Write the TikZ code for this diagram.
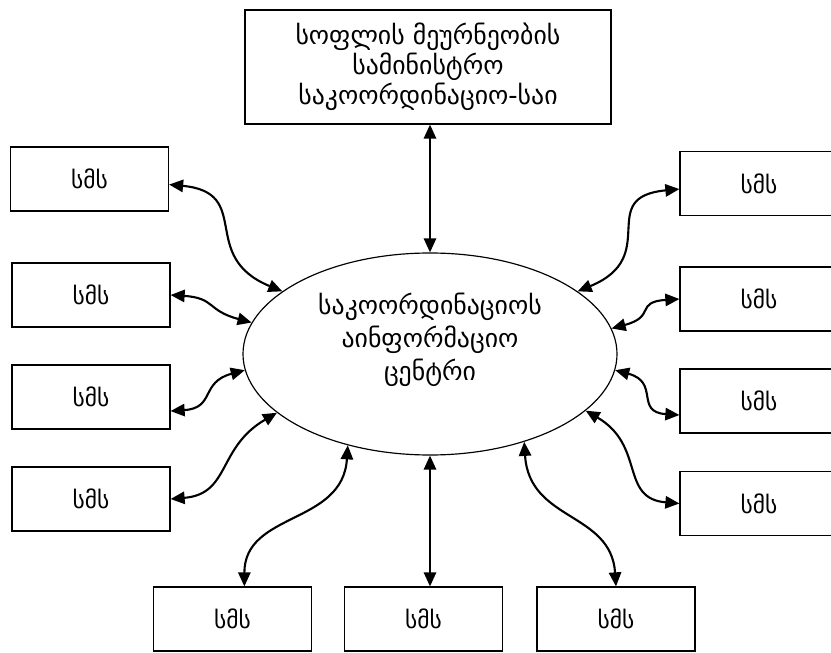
\documentclass[tikz,border=0pt]{standalone}
\usepackage{fontspec}
\setmainfont{DejaVu Sans}
\usepackage{tikz}
\usetikzlibrary{arrows.meta, shapes.geometric}

\tikzset{
  smsbox/.style={draw, rectangle, line width=1pt, minimum width=4.74cm, minimum height=1.92cm, font=\fontsize{20}{24}\selectfont},
  link/.style={<->, >={Triangle[length=12pt,width=10.5pt]}, line width=1.8pt},
}

\begin{document}
\begin{tikzpicture}[x=0.03cm, y=-0.03cm]
    \useasboundingbox (0,0) rectangle (831,653);
    % ministry and the centre
    \node[draw, rectangle, line width=1pt, minimum width=10.98cm, minimum height=3.42cm, align=center, font=\fontsize{22}{25.5}\selectfont] (ministry) at (428,67) {სოფლის მეურნეობის\\სამინისტრო\\საკოორდინაციო-საი};
    \node[draw, ellipse, line width=1pt, minimum width=11.22cm, minimum height=6.06cm, inner sep=0pt] (centre) at (430,354) {};
    \node[align=center, font=\fontsize{22}{28}\selectfont] (centretext) at (430,340) {საკოორდინაციოს\\აინფორმაციო\\ცენტრი};
    % left column
    \node[smsbox] (l1) at (89.5,179) {სმს};
    \node[smsbox] (l2) at (91,295) {სმს};
    \node[smsbox] (l3) at (91,397) {სმს};
    \node[smsbox] (l4) at (91,499) {სმს};
    % right column
    \node[smsbox] (r1) at (759,183.5) {სმს};
    \node[smsbox] (r2) at (759,299) {სმს};
    \node[smsbox] (r3) at (759,401) {სმს};
    \node[smsbox] (r4) at (759,503.5) {სმს};
    % bottom row
    \node[smsbox] (b1) at (232.5,619) {სმს};
    \node[smsbox] (b2) at (423.5,619) {სმს};
    \node[smsbox] (b3) at (616,619) {სმს};

    \draw[link] (centre.north) -- (centre.north |- ministry.south);
    \draw[link] (l1.-4) .. controls +(85,8) and +(-85,-35) .. (centre.157);
    \draw[link] (l2.east) .. controls +(45,3) and +(-45,-12) .. (centre.170);
    \draw[link] (l3.-10) .. controls +(45,-3) and +(-45,12) .. (centre.185);
    \draw[link] (l4.east) .. controls +(60,-5) and +(-60,35) .. (centre.201);
    \draw[link] (b1.70) .. controls +(0,-75) and +(-5,80) .. (centre.228);
    \draw[link] (centre.south) -- (centre.south |- b2.north);
    \draw[link] (b3.north) .. controls +(-5,-75) and +(5,80) .. (centre.317);
    \draw[link] (r4.west) .. controls +(-60,-5) and +(60,35) .. (centre.340);
    \draw[link] (r3.190) .. controls +(-45,-3) and +(45,12) .. (centre.355);
    \draw[link] (r2.west) .. controls +(-45,3) and +(45,-12) .. (centre.8);
    \draw[link] (r1.184) .. controls +(-85,8) and +(85,-35) .. (centre.23);
\end{tikzpicture}
\end{document}
